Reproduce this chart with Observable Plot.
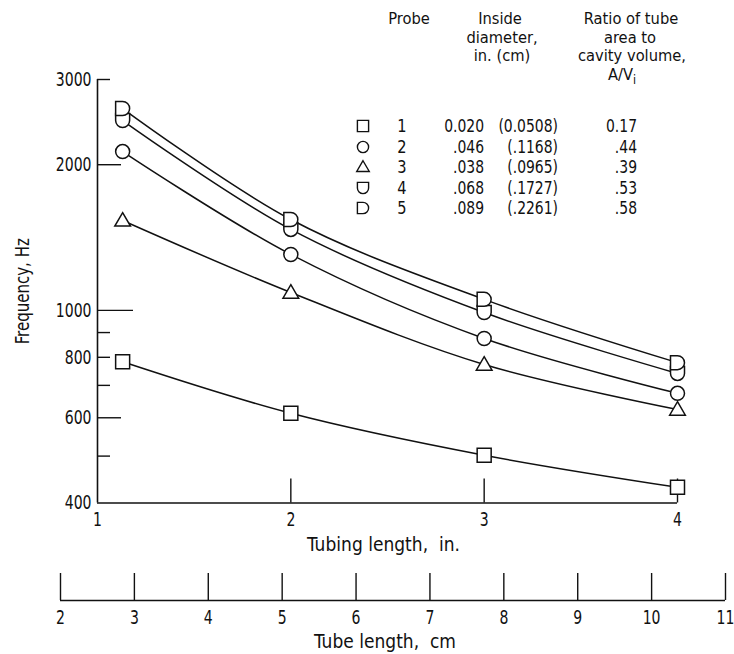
<!DOCTYPE html>
<html>
<head>
<meta charset="utf-8">
<script src="https://cdn.jsdelivr.net/npm/d3@7"></script>
<script src="https://cdn.jsdelivr.net/npm/@observablehq/plot@0.6"></script>
<style>
  html, body { margin: 0; padding: 0; background: #fff; }
  #wrap { position: relative; width: 734px; height: 654px; overflow: hidden;
          font-family: "DejaVu Sans Condensed", "DejaVu Sans", sans-serif; color: #111; }
  #wrap svg { display: block; }
  .lg { position: absolute; font-size: 18px; line-height: 16px; white-space: nowrap; }
  .hd { font-size: 16px; line-height: 15px; }
  .c { transform: translate(-50%, -50%) scaleX(0.9); transform-origin: 50% 50%; }
  .hd.c { transform: translate(-50%, -50%) scaleX(1.02); }
  .r { transform: translate(-100%, -50%) scaleX(0.86); transform-origin: 100% 50%; }
</style>
</head>
<body>
<div id="wrap"></div>
<script>
// ---- data ----
const probes = ["1", "2", "3", "4", "5"];
const lengthIn = [1.13, 2, 3, 4];
const freqProbe1 = [783, 613, 502, 431];
const freqProbe2 = [2129, 1305, 875, 674];
const freqProbe3 = [1534, 1089, 773, 624];
const freqProbe4 = [2468, 1470, 990, 741];
const freqProbe5 = [2613, 1541, 1054, 780];
const diamIn = ["0.020", ".046", ".038", ".068", ".089"];
const diamCm = ["(0.0508)", "(.1168)", "(.0965)", "(.1727)", "(.2261)"];
const ratioAV = ["0.17", ".44", ".39", ".53", ".58"];
const yTickLabels = [400, 600, 800, 1000, 2000, 3000];
const yTicksLong = [1000];
const yTicksMid = [2000, 600];
const yTicksShort = [3000, 900, 800, 700, 500];
const xTickLabels = [1, 2, 3, 4];
const xTicksInner = [2, 3, 4];
const cmTicks = [2, 3, 4, 5, 6, 7, 8, 9, 10, 11];
const xTitle = "Tubing length,  in.";
const yTitle = "Frequency, Hz";
const cmTitle = "Tube length,  cm";

const series = [freqProbe1, freqProbe2, freqProbe3, freqProbe4, freqProbe5];
const table = probes.flatMap((p, i) => lengthIn.map((x, j) => ({probe: p, length: x, freq: series[i][j]})));

// ---- symbols ----
const rOf = size => Math.sqrt(size / Math.PI);
const symSquare = {draw(c, size) { const r = rOf(size); c.moveTo(-r, -r); c.lineTo(r, -r); c.lineTo(r, r); c.lineTo(-r, r); c.closePath(); }};
const symCircle = {draw(c, size) { const r = rOf(size); c.moveTo(r, 0); c.arc(0, 0, r, 0, 2 * Math.PI); c.closePath(); }};
const symTriangle = {draw(c, size) { const r = rOf(size) * 1.12; c.moveTo(0, -r); c.lineTo(r, r * 0.72); c.lineTo(-r, r * 0.72); c.closePath(); }};
const symU = {draw(c, size) { const r = rOf(size); c.moveTo(-r, -r); c.lineTo(r, -r); c.lineTo(r, 0); c.arc(0, 0, r, 0, Math.PI); c.closePath(); }};
const symD = {draw(c, size) { const r = rOf(size); c.moveTo(-r, -r); c.lineTo(0, -r); c.arc(0, 0, r, -Math.PI / 2, Math.PI / 2); c.lineTo(-r, r); c.closePath(); }};
const symbols = [symSquare, symCircle, symTriangle, symU, symD];

const FONT = '"DejaVu Sans Condensed", "DejaVu Sans", sans-serif';

// ---- main chart ----
const main = Plot.plot({
  width: 734,
  height: 560,
  marginLeft: 97,
  marginRight: 57,
  marginTop: 79,
  marginBottom: 57.5,
  style: {fontFamily: FONT, fontSize: "20px", color: "#111", background: "white", overflow: "visible"},
  x: {domain: [1, 4], label: null},
  y: {type: "log", domain: [400, 3000], label: null},
  marks: [
    Plot.ruleX([1], {stroke: "#111", strokeWidth: 1.6}),
    Plot.ruleY([400], {stroke: "#111", strokeWidth: 1.6}),
    Plot.axisY({ticks: yTicksLong, tickSize: -36, text: null, label: null, strokeWidth: 1.4}),
    Plot.axisY({ticks: yTicksMid, tickSize: -24, text: null, label: null, strokeWidth: 1.4}),
    Plot.axisY({ticks: yTicksShort, tickSize: -13, text: null, label: null, strokeWidth: 1.4}),
    Plot.axisY({ticks: yTickLabels, tickSize: 0, tickPadding: 6, tickFormat: d => String(d), label: null}),
    Plot.axisX({ticks: xTicksInner, tickSize: -24, text: null, label: null, strokeWidth: 1.4}),
    Plot.axisX({ticks: xTickLabels, tickSize: 0, tickPadding: 9, tickFormat: d => String(d), label: null}),
    Plot.text([xTitle], {frameAnchor: "bottom", lineAnchor: "middle", textAnchor: "middle", dy: 42, dx: -4}),
    Plot.text([yTitle], {frameAnchor: "left", textAnchor: "middle", lineAnchor: "middle", dx: -75, rotate: -90, fontSize: 19}),
    Plot.line(table, {x: "length", y: "freq", z: "probe", curve: "catmull-rom", stroke: "#111", strokeWidth: 1.5}),
    ...probes.map((p, i) => Plot.dot(table.filter(d => d.probe === p), {
      x: "length", y: "freq", symbol: symbols[i], r: 7, fill: "white", stroke: "#111", strokeWidth: 1.5
    }))
  ]
});

// ---- cm scale ----
const cm = Plot.plot({
  width: 734,
  height: 94,
  marginLeft: 60,
  marginRight: 9,
  marginTop: 10,
  marginBottom: 54,
  style: {fontFamily: FONT, fontSize: "20px", color: "#111", background: "white", overflow: "visible"},
  x: {domain: [2, 11], label: null},
  y: {domain: [0, 1], axis: null},
  marks: [
    Plot.ruleY([0], {stroke: "#111", strokeWidth: 1.6}),
    Plot.axisX({ticks: cmTicks, tickSize: -27, text: null, label: null, strokeWidth: 1.4}),
    Plot.axisX({ticks: cmTicks, tickSize: 0, tickPadding: 9, tickFormat: d => String(d), label: null}),
    Plot.text([cmTitle], {frameAnchor: "bottom", lineAnchor: "middle", textAnchor: "middle", dy: 41, dx: -8})
  ]
});

// condensed look: squeeze each text horizontally around its own anchor
const titleScale = new Map([[xTitle, 0.95], [cmTitle, 0.95], [yTitle, 0.88]]);
function condense(svg, s) {
  svg.querySelectorAll("text").forEach(t => {
    const k = titleScale.get(t.textContent) ?? s;
    const tr = t.getAttribute("transform") || "";
    t.setAttribute("transform", tr + ` scale(${k},1)`);
  });
}
condense(main, 0.78);
condense(cm, 0.78);

const wrap = document.getElementById("wrap");
wrap.appendChild(main);
wrap.appendChild(cm);

// ---- legend table ----
function place(html, x, y, cls) {
  const el = document.createElement("div");
  el.className = "lg " + cls;
  el.style.left = x + "px";
  el.style.top = y + "px";
  el.innerHTML = html;
  wrap.appendChild(el);
  return el;
}
place("Probe", 409, 18, "hd c");
place("Inside", 500, 18, "hd c");
place("diameter,", 502, 36.5, "hd c");
place("in. (cm)", 502, 55, "hd c");
place("Ratio of tube", 631, 18, "hd c");
place("area to", 630, 36.5, "hd c");
place("cavity volume,", 632, 55, "hd c");
place("A/V<sub style='font-size:12px;vertical-align:-4px;line-height:0'>i</sub>", 622, 74, "hd c");

probes.forEach((p, i) => {
  const y = 126 + i * 20.6;
  const svg = d3.create("svg").attr("width", 18).attr("height", 18)
    .style("position", "absolute").style("left", (363 - 9) + "px").style("top", (y - 9) + "px");
  const path = d3.path();
  symbols[i].draw(path, Math.PI * 5.6 * 5.6);
  svg.append("path").attr("transform", "translate(9,9)").attr("d", path.toString())
    .attr("fill", "white").attr("stroke", "#111").attr("stroke-width", 1.4);
  wrap.appendChild(svg.node());
  place(p, 402, y, "c");
  place(diamIn[i], 484, y, "r");
  place(diamCm[i], 558, y, "r");
  place(ratioAV[i], 637, y, "r");
});
</script>
</body>
</html>
